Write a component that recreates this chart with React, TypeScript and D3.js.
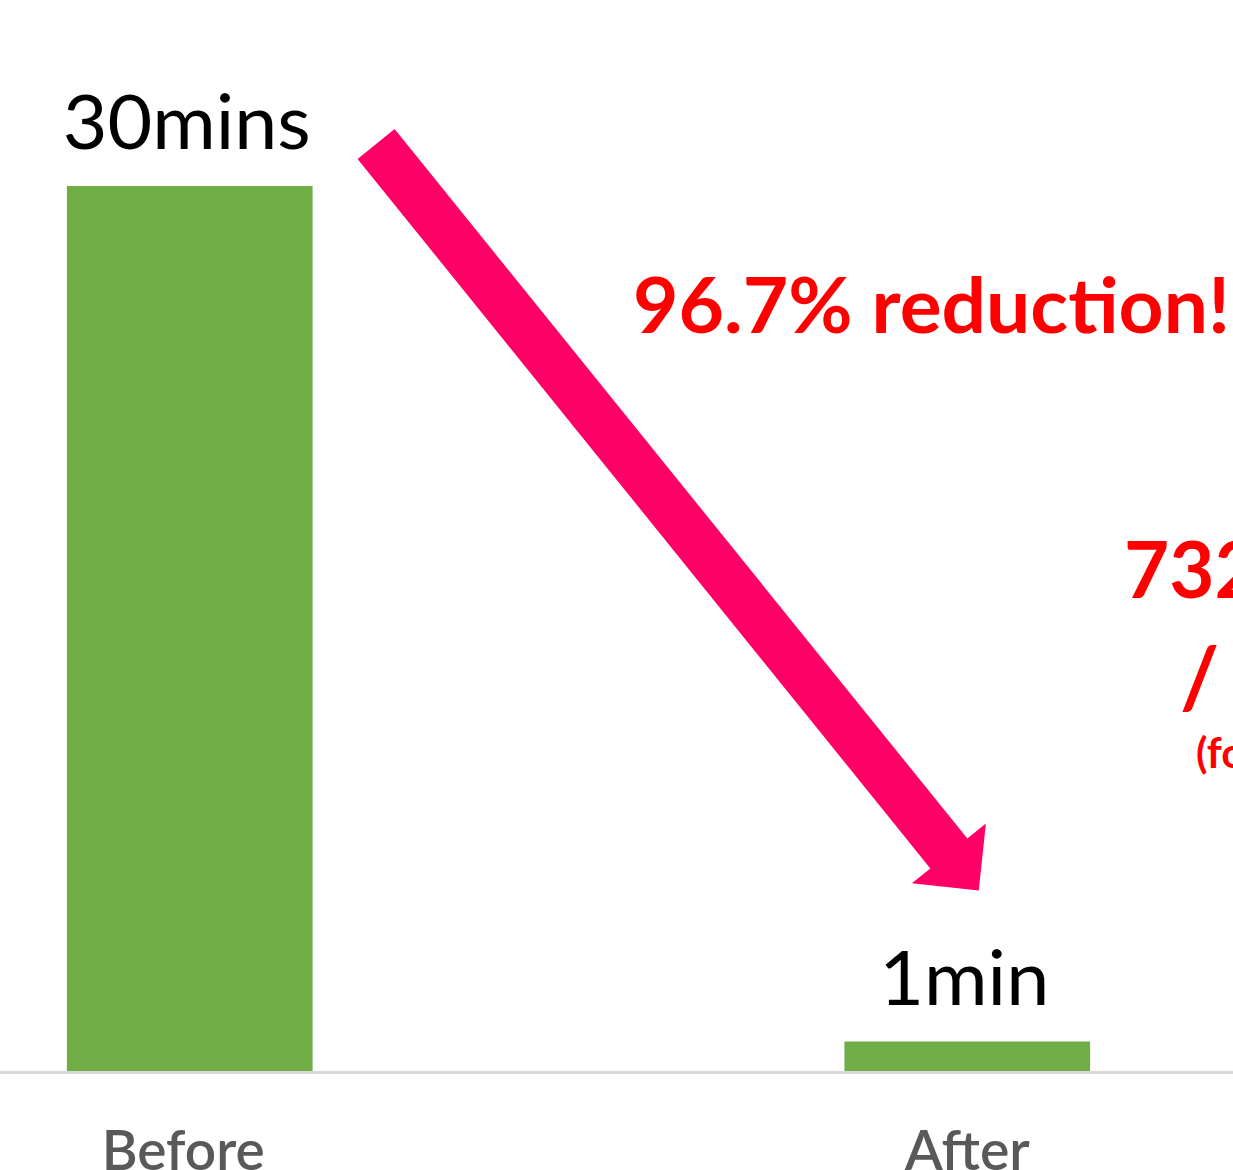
import React, { useEffect, useRef } from 'react';
import * as d3 from 'd3';

// chart values
const categories = ['Before', 'After'];
const minutes = [30, 1];
const valueLabels = ['30mins', '1min'];
const headline = '96.7% reduction!';
const savingLines = ['732 hours', '/', '(for'];

const W = 1233;
const H = 1170;

const App = () => {
  const svgRef = useRef<SVGSVGElement>(null);

  useEffect(() => {
    const svg = d3.select(svgRef.current);
    svg.selectAll('*').remove();

    const font = "Lato, 'Open Sans', sans-serif";

    // band scale continues past the visible (cropped) area on both sides
    const x = d3.scaleBand()
      .domain(categories)
      .range([-199, 1356])
      .paddingInner(0.684)
      .paddingOuter(0.342);

    const y = d3.scaleLinear().domain([0, 30]).range([1071, 186]);

    const g = svg.append('g');

    // bars
    g.selectAll('rect.bar')
      .data(categories)
      .join('rect')
      .attr('class', 'bar')
      .attr('x', d => x(d)!)
      .attr('width', x.bandwidth())
      .attr('y', (d, i) => y(minutes[i]))
      .attr('height', (d, i) => y(0) - y(minutes[i]))
      .attr('fill', '#70AD47');

    // baseline
    g.append('line')
      .attr('x1', 0)
      .attr('x2', W)
      .attr('y1', y(0) + 1.5)
      .attr('y2', y(0) + 1.5)
      .attr('stroke', '#D9D9D9')
      .attr('stroke-width', 3);

    // value labels, widths matched to the original's Calibri text
    const valWidth = [248, 170];
    g.selectAll('text.val')
      .data(categories)
      .join('text')
      .attr('class', 'val')
      .attr('x', d => x(d)! + x.bandwidth() / 2 - 3)
      .attr('y', (d, i) => y(minutes[i]) - 37)
      .attr('text-anchor', 'middle')
      .attr('textLength', (d, i) => valWidth[i])
      .attr('lengthAdjust', 'spacingAndGlyphs')
      .style('font-family', font)
      .style('font-size', '75px')
      .attr('fill', '#000')
      .text((d, i) => valueLabels[i]);

    // category labels (cut off by bottom edge)
    const catWidth = [163, 125];
    const catShift = [-6.5, 0];
    g.selectAll('text.cat')
      .data(categories)
      .join('text')
      .attr('class', 'cat')
      .attr('x', (d, i) => x(d)! + x.bandwidth() / 2 + catShift[i])
      .attr('y', y(0) + 99)
      .attr('text-anchor', 'middle')
      .attr('textLength', (d, i) => catWidth[i])
      .attr('lengthAdjust', 'spacingAndGlyphs')
      .style('font-family', font)
      .style('font-size', '55px')
      .style('font-weight', 600)
      .attr('fill', '#595959')
      .text(d => d);

    // arrow from Before to After
    const tail: [number, number] = [x('Before')! + x.bandwidth() + 63.5, y(minutes[0]) - 42];
    const tip: [number, number] = [x('After')! + x.bandwidth() / 2 + 11.5, y(minutes[1]) - 151];
    const dx = tip[0] - tail[0];
    const dy = tip[1] - tail[1];
    const len = Math.hypot(dx, dy);
    const ux = dx / len, uy = dy / len;
    const nx = -uy, ny = ux;
    const shaftW = 23.8, headW = 47.6, headL = 47.6;
    const bx = tip[0] - ux * headL, by = tip[1] - uy * headL;
    const pts: [number, number][] = [
      [tail[0] + nx * shaftW, tail[1] + ny * shaftW],
      [bx + nx * shaftW, by + ny * shaftW],
      [bx + nx * headW, by + ny * headW],
      tip,
      [bx - nx * headW, by - ny * headW],
      [bx - nx * shaftW, by - ny * shaftW],
      [tail[0] - nx * shaftW, tail[1] - ny * shaftW],
    ];
    g.append('path')
      .attr('d', d3.line()(pts) + 'Z')
      .attr('fill', '#FF0066');

    // annotations
    g.append('text')
      .attr('x', 633)
      .attr('y', 333)
      .attr('textLength', 597)
      .attr('lengthAdjust', 'spacingAndGlyphs')
      .style('font-family', font)
      .style('font-weight', 'bold')
      .style('font-size', '76px')
      .attr('fill', '#FF0000')
      .text(headline);

    const saveX = [1124, 1180, 1196];
    const saveY = [598, 708, 768];
    const saveSize = [78, 84, 42];
    savingLines.forEach((s, i) => {
      g.append('text')
        .attr('x', saveX[i])
        .attr('y', saveY[i])
        .style('font-family', font)
        .style('font-weight', 'bold')
        .style('font-size', `${saveSize[i]}px`)
        .attr('fill', '#FF0000')
        .text(s);
    });
  }, []);

  return (
    <svg
      ref={svgRef}
      width={W}
      height={H}
      style={{ position: 'absolute', left: 0, top: 0, background: '#fff' }}
    />
  );
};

export default App;
